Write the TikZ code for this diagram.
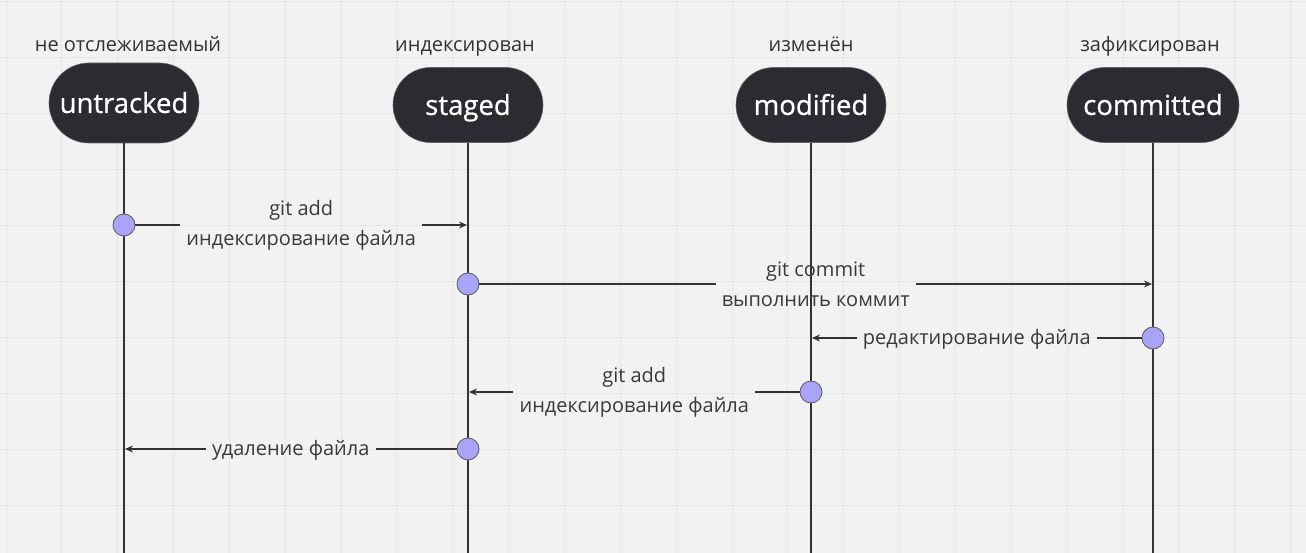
\documentclass[tikz,border=0pt]{standalone}
\usepackage{fontspec}
\setmainfont{Open Sans}
\newfontfamily\pillfont[FakeBold=0.8]{Open Sans}
\usetikzlibrary{arrows.meta,shapes.misc}
\definecolor{bg}{HTML}{F2F2F2}
\definecolor{gridc}{HTML}{E5E5E5}
\definecolor{pillc}{HTML}{2B2C31}
\definecolor{dotc}{HTML}{A8A4FA}
\definecolor{ink}{HTML}{333333}
\definecolor{txt}{HTML}{3A3A3A}
\tikzset{
  pill/.style={rounded rectangle, fill=pillc, draw=gray!70!pillc, line width=0.6pt, text=white,
    font=\pillfont\fontsize{27.5}{30}\selectfont, inner sep=0pt, text height=26.7pt, text depth=6.9pt,
    minimum width=150pt, minimum height=75pt},
  headlbl/.style={text=ink, font=\fontsize{20}{22}\selectfont, inner sep=0pt, text height=19pt, text depth=5pt},
  life/.style={draw=ink, line width=1.3pt},
  dotnode/.style={circle, fill=dotc, draw=ink!80, line width=0.8pt, minimum size=22pt, inner sep=0pt},
  lbl/.style={text=txt, font=\fontsize{20}{30}\selectfont, align=center, inner xsep=6pt, inner ysep=0pt},
  lblone/.style={lbl, text height=15.7pt, text depth=2pt},
  msgline/.style={draw=ink, line width=1.2pt},
  msgarrow/.style={draw=ink, line width=1.2pt, -{Stealth[length=8pt,width=7pt]}}
}
\begin{document}
\begin{tikzpicture}[x=1pt,y=-1pt]
\fill[bg] (0,0) rectangle (1306,553);
\useasboundingbox (0,0) rectangle (1306,553);
% grid
\foreach \i in {0,...,23} { \draw[gridc, line width=1pt] ({6+\i*55.85},0) -- ({6+\i*55.85},553); }
\foreach \j in {0,...,9} { \draw[gridc, line width=1pt] (0,{2+\j*55.9}) -- (1306,{2+\j*55.9}); }
% head labels
\node[headlbl] (lu) at (128,45) {не отслеживаемый};
\node[headlbl] (ls) at (465,45) {индексирован};
\node[headlbl] (lm) at (811,45) {изменён};
\node[headlbl] (lc) at (1150,45) {зафиксирован};
% pills
\node[pill, minimum height=80pt] (u) at (124,103) {untracked};
\node[pill] (s) at (468,105) {staged};
\node[pill] (m) at (811,105) {modified};
\node[pill, minimum width=172pt] (c) at (1153,105) {committed};
% lifelines
\coordinate (bu) at (124,553);
\coordinate (bs) at (468,553);
\coordinate (bm) at (811,553);
\coordinate (bc) at (1153,553);
\draw[life] (u.south) -- (bu);
\draw[life] (s.south) -- (bs);
\draw[life] (m.south) -- (bm);
\draw[life] (c.south) -- (bc);
% dots
\node[dotnode] (d1) at (124,225) {};
\node[dotnode] (d2) at (468,284) {};
\node[dotnode] (d3) at (1153,338) {};
\node[dotnode] (d4) at (811,392) {};
\node[dotnode] (d5) at (468,449) {};
% arrow targets
\coordinate (t1) at (467,225);
\coordinate (t2) at (1152,284);
\coordinate (t3) at (812,338);
\coordinate (t4) at (469,392);
\coordinate (t5) at (125,449);
% messages
\path (d1) -- node[lbl] (m1) {git add\\индексирование файла} (t1);
\draw[msgline] (d1) -- (m1.west);
\draw[msgarrow] (m1.east) -- (t1);
\path (d2) -- node[lbl] (m2) {git commit\\выполнить коммит} (t2);
\draw[msgline] (d2) -- (m2.west);
\draw[msgarrow] (m2.east) -- (t2);
\path (d3) -- node[lblone] (m3) {редактирование файла} (t3);
\draw[msgline] (d3) -- (m3.east);
\draw[msgarrow] (m3.west) -- (t3);
\path (d4) -- node[lbl] (m4) {git add\\индексирование файла} (t4);
\draw[msgline] (d4) -- (m4.east);
\draw[msgarrow] (m4.west) -- (t4);
\path (d5) -- node[lblone] (m5) {удаление файла} (t5);
\draw[msgline] (d5) -- (m5.east);
\draw[msgarrow] (m5.west) -- (t5);
\end{tikzpicture}
\end{document}
